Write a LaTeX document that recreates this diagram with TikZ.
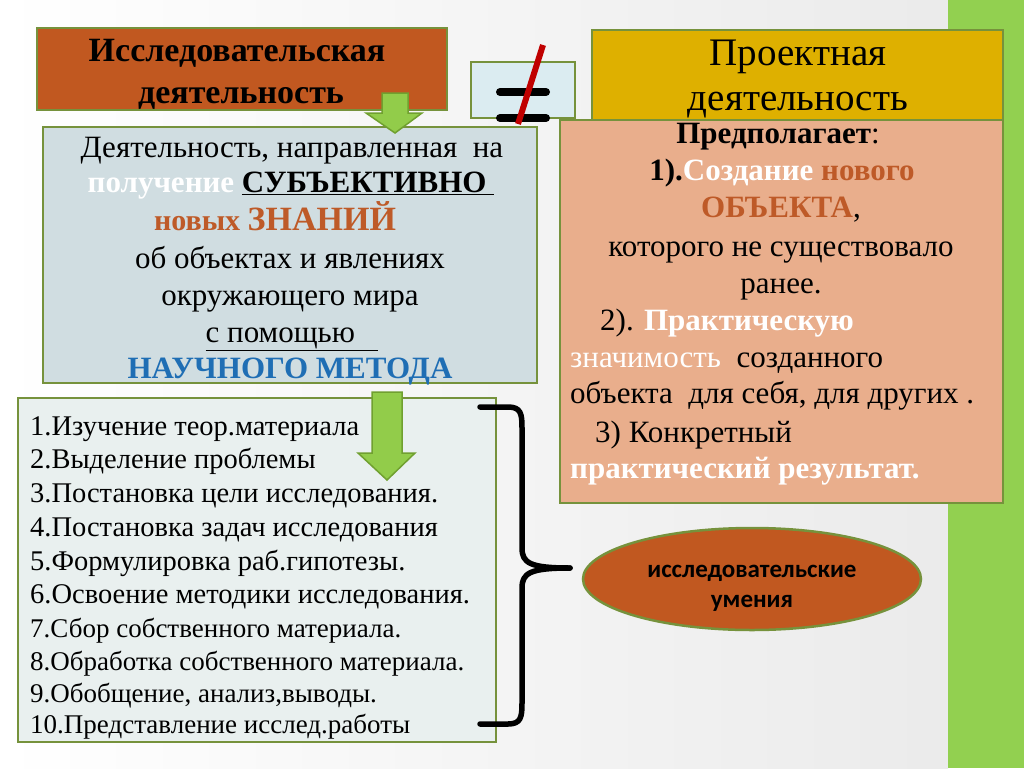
\documentclass[tikz,border=0pt]{standalone}
\usepackage{fontspec}
\setmainfont{Liberation Serif}
\newfontfamily\calib{Carlito}
\usetikzlibrary{shapes.geometric}
\definecolor{brownfill}{RGB}{193,88,32}
\definecolor{goldfill}{RGB}{222,176,0}
\definecolor{salmon}{RGB}{233,174,140}
\definecolor{bluegrey}{RGB}{208,221,225}
\definecolor{listfill}{RGB}{233,240,239}
\definecolor{olive}{RGB}{118,146,60}
\definecolor{arrowgreen}{RGB}{146,204,74}
\definecolor{arrowedge}{RGB}{112,160,48}
\definecolor{stripgreen}{RGB}{146,208,80}
\definecolor{neqfill}{RGB}{219,236,241}
\definecolor{slashred}{RGB}{192,0,0}
\definecolor{txtbrown}{RGB}{190,90,40}
\definecolor{txtblue}{RGB}{31,110,180}
\tikzset{
  panel/.style={draw=olive, line width=2.5pt, rectangle, inner sep=0pt},
  blockarrow/.style={fill=arrowgreen, draw=arrowedge, line width=1.5pt, line join=miter},
  txt/.style={inner sep=0pt, anchor=base},
  txtl/.style={inner sep=0pt, anchor=base west},
  big/.style={font=\fontsize{31}{36}\selectfont},
  bigb/.style={font=\fontsize{31}{36}\selectfont\bfseries},
  lst/.style={font=\fontsize{28.5}{32}\selectfont, inner sep=0pt, anchor=base west},
  lsts/.style={font=\fontsize{27}{32}\selectfont, inner sep=0pt, anchor=base west},
}
\begin{document}
\begin{tikzpicture}[x=1pt,y=-1pt]
\useasboundingbox (0,0) rectangle (1024,768);
% background
\shade[left color=white, right color=black!8] (0,0) rectangle (948,768);
\fill[stripgreen] (948,0) rectangle (1024,768);

% box 1
\draw[panel, fill=brownfill] (37,28) rectangle (447,110);
\node[txt, font=\fontsize{34}{38}\selectfont\bfseries] (t1a) at (237,62) {Исследовательская};
\node[txt, font=\fontsize{34}{38}\selectfont\bfseries] (t1b) at (241,103) {деятельность};

% box 2
\draw[panel, fill=goldfill] (592,30) rectangle (1003,120);
\node[txt, font=\fontsize{39}{44}\selectfont] (t2a) at (798,65) {Проектная};
\node[txt, font=\fontsize{39}{44}\selectfont] (t2b) at (798,110) {деятельность};

% not equal box
\draw[panel, fill=neqfill] (471,62) rectangle (575,118);
\draw[line width=8pt, line cap=round] (500,92) -- (546,92);
\draw[line width=8pt, line cap=round] (500,118) -- (546,118);
\draw[slashred, line width=6pt] (543,45) -- (518,124);

% box 3 (salmon)
\draw[panel, fill=salmon] (560,120) rectangle (1003,503);
\node[txt, big] (r1) at (778,143) {\textbf{Предполагает}:};
\node[txt, bigb] (r2) at (782,180) {1).\textcolor{white}{Создание} \textcolor{txtbrown}{нового}};
\node[txt, big] (r3) at (781,217) {\textcolor{txtbrown}{\textbf{ОБЪЕКТА}},};
\node[txt, big] (r4) at (781,256) {которого не существовало};
\node[txt, big] (r5) at (781,293) {ранее.};
\node[txtl, big] (r6) at (600,330) {2). \textcolor{white}{\textbf{Практическую}}};
\node[txtl, big] (r7) at (570,367) {\textcolor{white}{значимость}\ \ созданного};
\node[txtl, big] (r8) at (570,403) {объекта\ \ для себя, для других .};
\node[txtl, big] (r9) at (595,442) {3) Конкретный};
\node[txtl, bigb, text=white] (r10) at (570,478) {практический результат.};

% box 4
\draw[panel, fill=bluegrey] (43,127) rectangle (537,383);
\node[txt, big] (l1) at (292,157) {Деятельность, направленная\ \ на};
\node[txt, bigb] (l2) at (291,192) {\textcolor{white}{получение} \underline{СУБЪЕКТИВНО\ }};
\node[txt, bigb, text=txtbrown] (l3) at (275,230) {{\fontsize{30}{34}\selectfont новых }{\fontsize{34}{38}\selectfont ЗНАНИЙ}};
\node[txt, big] (l4) at (290,268) {об объектах и явлениях};
\node[txt, big] (l5) at (290,305) {окружающего мира};
\node[txt, big] (l6) at (292,342) {\underline{с помощью\ \ \ }};
\node[txt, bigb, text=txtblue] (l7) at (290,378) {НАУЧНОГО МЕТОДА};

% arrow 1
\draw[blockarrow] (382,93) -- (408,93) -- (408,113) -- (422,113) -- (395,133) -- (366,113) -- (382,113) -- cycle;

% box 5 (list)
\draw[panel, fill=listfill] (18,398) rectangle (496,742);
\node[lst] (s1) at (30,435) {1.Изучение теор.материала};
\node[lst] (s2) at (30,468) {2.Выделение проблемы};
\node[lst] (s3) at (30,502) {3.Постановка цели исследования.};
\node[lst] (s4) at (30,536) {4.Постановка задач исследования};
\node[lst] (s5) at (30,570) {5.Формулировка раб.гипотезы.};
\node[lst] (s6) at (30,603) {6.Освоение методики исследования.};
\node[lsts] (s7) at (30,637) {7.Сбор собственного материала.};
\node[lsts] (s8) at (30,670) {8.Обработка собственного материала.};
\node[lsts] (s9) at (30,702) {9.Обобщение, анализ,выводы.};
\node[lsts] (s10) at (30,733) {10.Представление исслед.работы};

% arrow 2
\draw[blockarrow] (372,392) -- (402,392) -- (402,453) -- (415,453) -- (387,480) -- (358,453) -- (372,453) -- cycle;

% ellipse
\node[ellipse, draw=olive, line width=2.5pt, fill=brownfill, minimum width=338pt, minimum height=102pt, inner sep=0pt] (skills) at (752,579) {};
\node[txt, font=\calib\fontsize{25}{28}\selectfont\bfseries] (sk1) at (752,577) {исследовательские};
\node[txt, font=\calib\fontsize{25}{28}\selectfont\bfseries] (sk2) at (752,607) {умения};

% brace
\coordinate (btop) at (480,407);
\coordinate (bbot) at (480,724);
\coordinate (btip) at (570,568);
\draw[line width=5.5pt, line cap=round, line join=round]
  (btop) -- (508,407) .. controls (521,407) and (522,414) .. (522,428)
  -- (522,548) .. controls (522,563) and (530,568) .. (btip);
\draw[line width=5.5pt, line cap=round, line join=round]
  (bbot) -- (508,724) .. controls (521,724) and (522,717) .. (522,703)
  -- (522,588) .. controls (522,573) and (530,568) .. (btip);
\end{tikzpicture}
\end{document}
